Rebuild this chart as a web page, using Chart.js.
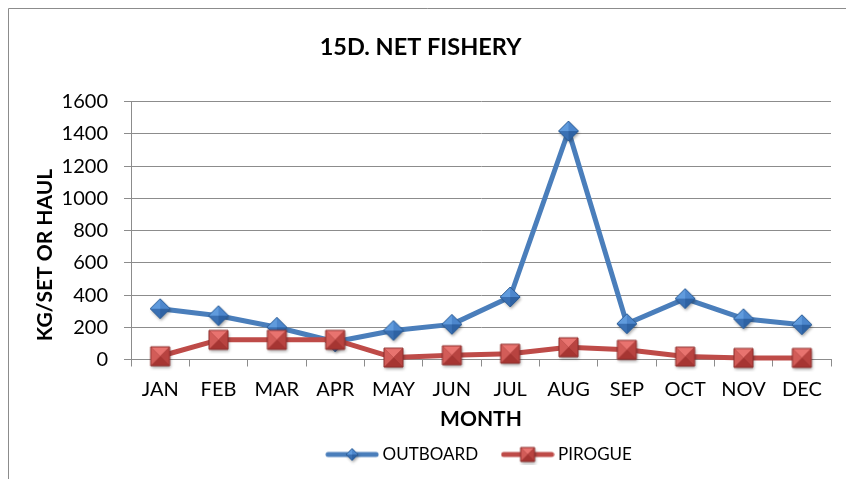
<!DOCTYPE html>
<html>
<head>
<meta charset="utf-8">
<title>15D. NET FISHERY</title>
<script src="https://cdn.jsdelivr.net/npm/chart.js@4/dist/chart.umd.min.js"></script>
<style>
  html, body { margin: 0; padding: 0; background: #fff; }
  canvas { display: block; }
</style>
</head>
<body>
<canvas id="chart" width="846" height="479"></canvas>
<script>
const months = ['JAN', 'FEB', 'MAR', 'APR', 'MAY', 'JUN', 'JUL', 'AUG', 'SEP', 'OCT', 'NOV', 'DEC'];
const outboard = [315, 272, 200, 110, 180, 218, 388, 1418, 222, 378, 253, 216];
const pirogue = [20, 122, 122, 122, 12, 26, 36, 76, 60, 18, 10, 10];
const yTicks = [0, 200, 400, 600, 800, 1000, 1200, 1400, 1600];

const BLUE = '#4A7EBB';
const RED = '#BE4B48';
const GRID = '#8c8c8c';
const FONT = 'Lato, "Open Sans", sans-serif';

// bevelled marker: four shaded faces meeting in the middle //
function bevelMarker(size, faces, edge, diamond) {
    const pad = 5;
    const c = document.createElement('canvas');
    c.width = c.height = size + pad * 2;
    const g = c.getContext('2d');
    const m = c.width / 2, h = size / 2;
    const pts = diamond
        ? [[m, m - h], [m + h, m], [m, m + h], [m - h, m]]
        : [[m - h, m - h], [m + h, m - h], [m + h, m + h], [m - h, m + h]];

    g.save();
    g.shadowColor = 'rgba(0,0,0,0.35)';
    g.shadowBlur = 3;
    g.shadowOffsetX = 1;
    g.shadowOffsetY = 2;
    g.beginPath();
    pts.forEach((p, i) => i ? g.lineTo(p[0], p[1]) : g.moveTo(p[0], p[1]));
    g.closePath();
    g.fillStyle = edge;
    g.fill();
    g.restore();

    for (let i = 0; i < 4; i++) {
        const a = pts[i], b = pts[(i + 1) % 4];
        g.beginPath();
        g.moveTo(m, m);
        g.lineTo(a[0], a[1]);
        g.lineTo(b[0], b[1]);
        g.closePath();
        g.fillStyle = faces[i];
        g.fill();
    }
    g.beginPath();
    pts.forEach((p, i) => i ? g.lineTo(p[0], p[1]) : g.moveTo(p[0], p[1]));
    g.closePath();
    g.strokeStyle = edge;
    g.lineWidth = 1;
    g.stroke();
    return c;
}

const blueFaces = ['#4C86CC', '#2E62A3', '#3A70B3', '#609BDD'];
const redFaces = ['#E8736F', '#B84340', '#A63532', '#D25C58'];

const diamondPt = bevelMarker(20, blueFaces, '#2B5C96', true);
const squarePt = bevelMarker(19, redFaces, '#8E2F2C', false);

// legend sample: short line with a small marker on it //
function legendSample(color, marker) {
    const c = document.createElement('canvas');
    c.width = 54;
    c.height = 20;
    const g = c.getContext('2d');
    g.strokeStyle = color;
    g.lineWidth = 5;
    g.lineCap = 'round';
    g.beginPath();
    g.moveTo(3, 10);
    g.lineTo(51, 10);
    g.stroke();
    g.drawImage(marker, 27 - marker.width / 2, 10 - marker.height / 2);
    return c;
}

const legendItems = [
    { text: 'OUTBOARD', pointStyle: legendSample(BLUE, bevelMarker(12, blueFaces, '#2B5C96', true)) },
    { text: 'PIROGUE', pointStyle: legendSample(RED, bevelMarker(14, redFaces, '#8E2F2C', false)) }
];

// outer frame and axis title //
const framePlugin = {
    id: 'frame',
    beforeDraw(chart) {
        const ctx = chart.ctx;
        ctx.save();
        ctx.fillStyle = '#fff';
        ctx.fillRect(0, 0, chart.width, chart.height);
        ctx.strokeStyle = GRID;
        ctx.lineWidth = 1;
        ctx.beginPath();
        ctx.moveTo(8.5, chart.height);
        ctx.lineTo(8.5, 8.5);
        ctx.lineTo(chart.width, 8.5);
        ctx.stroke();
        ctx.restore();
    },
    afterDraw(chart) {
        const ctx = chart.ctx;
        ctx.save();
        ctx.translate(45, 255);
        ctx.rotate(-Math.PI / 2);
        ctx.font = 'bold 21px ' + FONT;
        ctx.fillStyle = '#000';
        ctx.textAlign = 'center';
        ctx.textBaseline = 'middle';
        ctx.fillText('KG/SET OR HAUL', 0, 0);
        ctx.restore();
    }
};

new Chart(document.getElementById('chart'), {
    type: 'line',
    data: {
        labels: months,
        datasets: [
            {
                label: 'OUTBOARD',
                data: outboard,
                borderColor: BLUE,
                borderWidth: 5,
                borderCapStyle: 'round',
                borderJoinStyle: 'round',
                pointStyle: diamondPt,
                pointRadius: 10,
                clip: false,
                order: 1
            },
            {
                label: 'PIROGUE',
                data: pirogue,
                borderColor: RED,
                borderWidth: 5,
                borderCapStyle: 'round',
                borderJoinStyle: 'round',
                pointStyle: squarePt,
                pointRadius: 10,
                clip: false,
                order: 0
            }
        ]
    },
    options: {
        responsive: false,
        animation: false,
        events: [],
        devicePixelRatio: 1,
        layout: { padding: { left: 10, right: 15, top: 0, bottom: 6 } },
        scales: {
            x: {
                offset: true,
                grid: { drawOnChartArea: false, offset: true, tickLength: 7, color: GRID },
                border: { color: GRID },
                ticks: { color: '#000', font: { family: FONT, size: 20 }, padding: 11, maxRotation: 0 },
                title: {
                    display: true,
                    text: 'MONTH',
                    color: '#000',
                    font: { family: FONT, size: 21, weight: 'bold' },
                    padding: { top: 0, bottom: -13 }
                },
                afterFit: (scale) => { scale.height = 59; }
            },
            y: {
                min: 0,
                max: 1600,
                afterBuildTicks: (scale) => { scale.ticks = yTicks.map(v => ({ value: v })); },
                grid: { tickLength: 7, color: GRID },
                border: { color: GRID },
                ticks: {
                    color: '#000',
                    font: { family: FONT, size: 20 },
                    padding: 16,
                    callback: (value) => String(value)
                },
                afterFit: (scale) => { scale.width = 121; }
            }
        },
        plugins: {
            title: {
                display: true,
                text: '15D. NET FISHERY',
                color: '#000',
                font: { family: FONT, size: 23.5, weight: 'bold' },
                padding: { top: 33, bottom: 40.5 }
            },
            legend: {
                position: 'bottom',
                fullSize: false,
                labels: {
                    usePointStyle: true,
                    pointStyleWidth: 44,
                    padding: 27.5,
                    color: '#000',
                    font: { family: FONT, size: 17 },
                    generateLabels: () => legendItems.map((it, i) => ({
                        text: it.text,
                        pointStyle: it.pointStyle,
                        fontColor: '#000',
                        fillStyle: 'transparent',
                        strokeStyle: 'transparent',
                        lineWidth: 0,
                        hidden: false,
                        datasetIndex: i
                    }))
                }
            },
            tooltip: { enabled: false }
        }
    },
    plugins: [framePlugin]
});
</script>
</body>
</html>
